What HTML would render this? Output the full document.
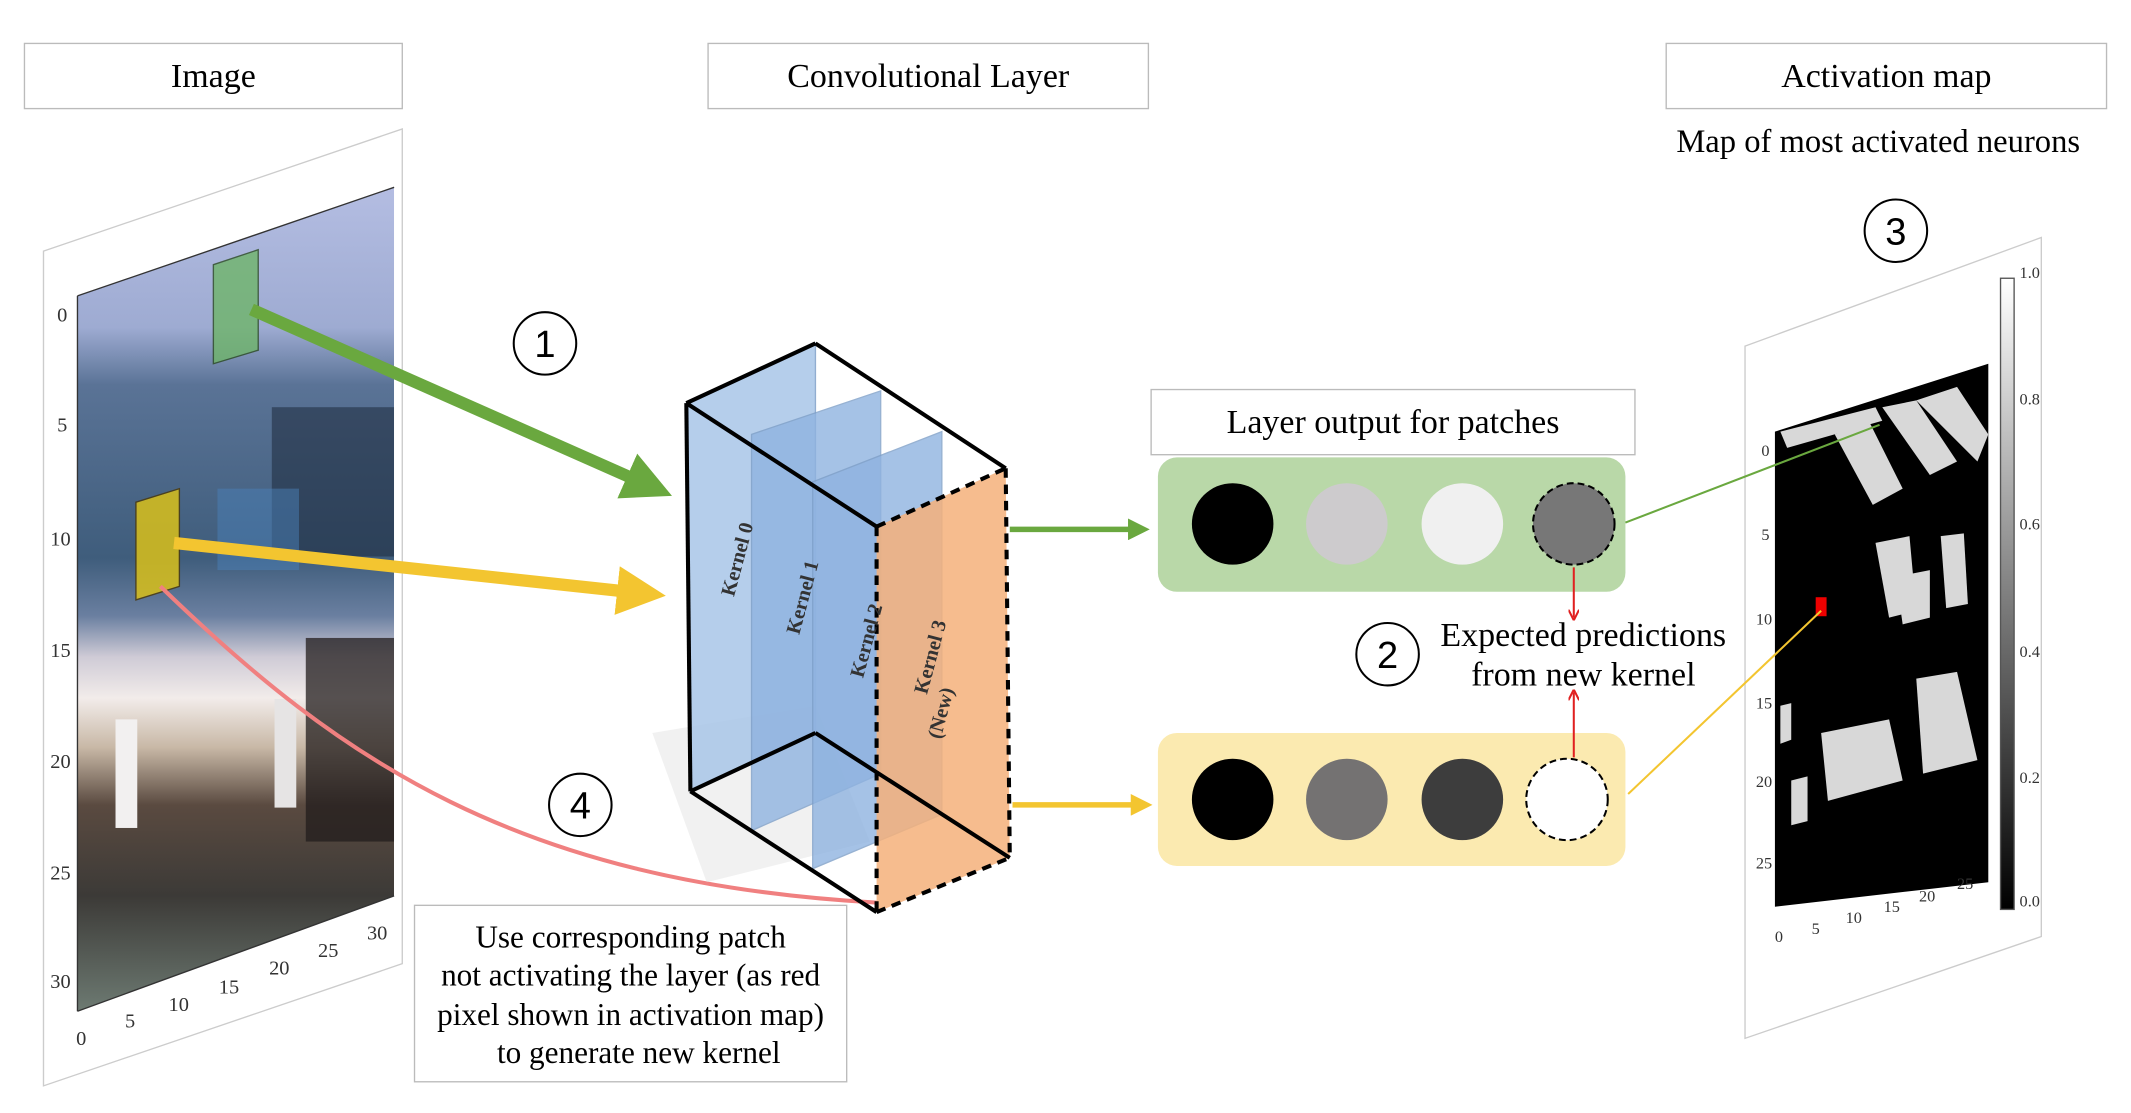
<!DOCTYPE html>
<html><head><meta charset="utf-8"><style>
html,body{margin:0;padding:0;background:#fff;}
svg{display:block;}
text{font-family:"Liberation Serif",serif;}
</style></head><body>
<svg width="2131" height="1113" viewBox="0 0 1568 820" preserveAspectRatio="none" xmlns="http://www.w3.org/2000/svg">
<defs>
<linearGradient id="img" x1="0" y1="0" x2="0" y2="1">
<stop offset="0" stop-color="#b4bde2"/><stop offset="0.17" stop-color="#9eabd2"/>
<stop offset="0.24" stop-color="#5a7396"/><stop offset="0.45" stop-color="#3f5d7c"/>
<stop offset="0.52" stop-color="#6a7fa0"/><stop offset="0.57" stop-color="#cfcbd6"/>
<stop offset="0.62" stop-color="#f2ecea"/><stop offset="0.68" stop-color="#c8b8a6"/>
<stop offset="0.75" stop-color="#5a4a40"/><stop offset="0.86" stop-color="#3c3a37"/>
<stop offset="1" stop-color="#6d7a72"/></linearGradient>
<linearGradient id="cb" x1="0" y1="0" x2="0" y2="1"><stop offset="0" stop-color="#fff"/><stop offset="1" stop-color="#000"/></linearGradient>
<clipPath id="ic"><polygon points="57,218 290,138 290,660 57,745"/></clipPath>
<clipPath id="hc"><polygon points="1306,318 1463,268 1463,650 1306,668"/></clipPath>
<marker id="ag" markerWidth="4" markerHeight="4" refX="2" refY="2" orient="auto" markerUnits="strokeWidth"><path d="M0,0 L4,2 L0,4 z" fill="#6aa83f"/></marker>
<marker id="ay" markerWidth="4" markerHeight="4" refX="2" refY="2" orient="auto" markerUnits="strokeWidth"><path d="M0,0 L4,2 L0,4 z" fill="#f3c530"/></marker>
<marker id="ar" markerWidth="8" markerHeight="8" refX="6" refY="4" orient="auto" markerUnits="userSpaceOnUse"><path d="M0,0 L8,4 L0,8" fill="none" stroke="#e02020" stroke-width="1.5"/></marker>
</defs>
<rect x="18" y="32" width="278" height="48" fill="#fff" stroke="#bbb"/>
<text x="157" y="64" font-size="25" text-anchor="middle">Image</text>
<rect x="521" y="32" width="324" height="48" fill="#fff" stroke="#bbb"/>
<text x="683" y="64" font-size="25" text-anchor="middle">Convolutional Layer</text>
<rect x="1226" y="32" width="324" height="48" fill="#fff" stroke="#bbb"/>
<text x="1388" y="64" font-size="25" text-anchor="middle">Activation map</text>
<text x="1382" y="112" font-size="24" text-anchor="middle">Map of most activated neurons</text>
<polygon points="32,185 296,95 296,710 32,800" fill="#fff" stroke="#ccc"/>
<g clip-path="url(#ic)">
<rect x="57" y="138" width="233" height="607" fill="url(#img)"/>
<rect x="200" y="300" width="90" height="110" fill="#1e2a3c" opacity="0.55"/>
<rect x="160" y="360" width="60" height="60" fill="#4a7fb8" opacity="0.5"/>
<rect x="85" y="530" width="16" height="80" fill="#f2f0f0"/>
<rect x="202" y="515" width="16" height="80" fill="#e6e4e4"/>
<rect x="225" y="470" width="65" height="150" fill="#221c1c" opacity="0.75"/>
</g>
<line x1="57" y1="218" x2="57" y2="745" stroke="#333"/>
<line x1="57" y1="745" x2="290" y2="660" stroke="#333"/>
<line x1="57" y1="218" x2="290" y2="138" stroke="#333"/>
<g font-size="15" fill="#333">
<text x="42" y="237">0</text><text x="42" y="318">5</text><text x="37" y="402">10</text><text x="37" y="484">15</text><text x="37" y="566">20</text><text x="37" y="648">25</text><text x="37" y="728">30</text>
<text x="56" y="770">0</text><text x="92" y="757">5</text><text x="124" y="745">10</text><text x="161" y="732">15</text><text x="198" y="718">20</text><text x="234" y="705">25</text><text x="270" y="692">30</text>
</g>
<polygon points="157,195 190,184 190,258 157,268" fill="#6fb56a" opacity="0.8" stroke="#2a4a20"/>
<polygon points="100,370 132,360 132,432 100,442" fill="#d9c01a" opacity="0.85" stroke="#4a3a10"/>
<line x1="185" y1="228" x2="478" y2="358" stroke="#6aa83f" stroke-width="9" marker-end="url(#ag)"/>
<line x1="128" y1="400" x2="472" y2="437" stroke="#f3c530" stroke-width="9" marker-end="url(#ay)"/>
<path d="M118,432 C250,560 380,650 645,665" fill="none" stroke="#f08080" stroke-width="3"/>
<g fill="#fff" stroke="#000" stroke-width="1.5">
<circle cx="401" cy="253" r="23"/><circle cx="427" cy="593" r="23"/><circle cx="1021" cy="482" r="23"/><circle cx="1395" cy="170" r="23"/></g>
<g font-size="28" text-anchor="middle">
<text x="401" y="263" style="font-family:'Liberation Sans',sans-serif">1</text><text x="427" y="603" style="font-family:'Liberation Sans',sans-serif">4</text><text x="1021" y="492" style="font-family:'Liberation Sans',sans-serif">2</text><text x="1395" y="180" style="font-family:'Liberation Sans',sans-serif">3</text></g>
<polygon points="480,540 600,520 640,620 520,650" fill="#ddd" opacity="0.4"/>
<polygon points="505,297 600,253 600,540 508,583" fill="#a9c6e8" opacity="0.85" stroke="#7e9fc8"/>
<polygon points="553,320 648,288 648,570 553,612" fill="#8fb3e0" opacity="0.8" stroke="#7e9fc8"/>
<polygon points="598,355 693,318 693,600 598,640" fill="#8fb3e0" opacity="0.8" stroke="#7e9fc8"/>
<polygon points="645,388 740,345 743,632 645,672" fill="#f4b07a" opacity="0.85"/>
<g stroke="#000" stroke-width="3" fill="none">
<line x1="505" y1="297" x2="600" y2="253"/><line x1="600" y1="253" x2="740" y2="345"/>
<line x1="505" y1="297" x2="645" y2="388"/><line x1="505" y1="297" x2="508" y2="583"/>
<line x1="508" y1="583" x2="645" y2="672"/><line x1="600" y1="540" x2="743" y2="632"/>
<line x1="508" y1="583" x2="600" y2="540"/>
</g>
<g stroke="#000" stroke-width="3" fill="none" stroke-dasharray="7,5">
<line x1="645" y1="388" x2="740" y2="345"/><line x1="740" y1="345" x2="743" y2="632"/>
<line x1="645" y1="672" x2="743" y2="632"/><line x1="645" y1="388" x2="645" y2="672"/></g>
<g font-size="15" font-weight="bold" fill="#333">
<text transform="translate(540,440) rotate(-75)">Kernel 0</text>
<text transform="translate(588,468) rotate(-75)">Kernel 1</text>
<text transform="translate(635,500) rotate(-75)">Kernel 2</text>
<text transform="translate(682,512) rotate(-75)">Kernel 3</text>
<text transform="translate(692,545) rotate(-75)">(New)</text></g>
<line x1="743" y1="390" x2="838" y2="390" stroke="#6aa83f" stroke-width="4" marker-end="url(#ag)"/>
<line x1="745" y1="593" x2="840" y2="593" stroke="#f3c530" stroke-width="4" marker-end="url(#ay)"/>
<rect x="847" y="287" width="356" height="48" fill="#fff" stroke="#bbb"/>
<text x="1025" y="319" font-size="25" text-anchor="middle">Layer output for patches</text>
<rect x="852" y="337" width="344" height="99" rx="14" fill="#b9d8a8"/>
<circle cx="907" cy="386" r="30" fill="#000"/><circle cx="991" cy="386" r="30" fill="#cdcbcd"/><circle cx="1076" cy="386" r="30" fill="#f0f0f0"/>
<circle cx="1158" cy="386" r="30" fill="#777" stroke="#000" stroke-width="1.5" stroke-dasharray="5,3"/>
<rect x="852" y="540" width="344" height="98" rx="14" fill="#fbeab0"/>
<circle cx="907" cy="589" r="30" fill="#000"/><circle cx="991" cy="589" r="30" fill="#747272"/><circle cx="1076" cy="589" r="30" fill="#3d3d3d"/>
<circle cx="1153" cy="589" r="30" fill="#fff" stroke="#000" stroke-width="1.5" stroke-dasharray="5,3"/>
<line x1="1158" y1="418" x2="1158" y2="455" stroke="#e02020" stroke-width="1.5" marker-end="url(#ar)"/>
<line x1="1158" y1="558" x2="1158" y2="510" stroke="#e02020" stroke-width="1.5" marker-end="url(#ar)"/>
<text x="1165" y="476" font-size="25" text-anchor="middle">Expected predictions</text>
<text x="1165" y="505" font-size="25" text-anchor="middle">from new kernel</text>
<rect x="305" y="667" width="318" height="130" fill="#fff" stroke="#bbb"/>
<g font-size="23" text-anchor="middle">
<text x="464" y="698">Use corresponding patch</text>
<text x="464" y="726">not activating the layer (as red</text>
<text x="464" y="755">pixel shown in activation map)</text>
<text x="470" y="783">to generate new kernel</text></g>
<polygon points="1284,255 1502,175 1502,690 1284,765" fill="#fff" stroke="#ccc"/>
<polygon points="1306,318 1463,268 1463,650 1306,668" fill="#000"/>
<g fill="#d8d8d8" clip-path="url(#hc)">
<polygon points="1310,318 1380,300 1385,310 1315,330"/>
<polygon points="1350,320 1375,310 1400,360 1378,372"/><polygon points="1385,300 1410,295 1440,340 1420,350"/>
<polygon points="1410,295 1440,285 1463,320 1455,340"/>
<polygon points="1380,400 1405,395 1410,450 1390,455"/><polygon points="1428,395 1445,393 1448,445 1432,448"/>
<polygon points="1395,425 1420,420 1420,455 1400,460"/>
<polygon points="1340,540 1390,530 1400,575 1345,590"/><polygon points="1410,500 1440,495 1455,560 1415,570"/>
<polygon points="1310,520 1318,518 1318,545 1310,548"/><polygon points="1318,575 1330,572 1330,605 1318,608"/>
</g>
<rect x="1336" y="440" width="8" height="14" fill="#e00"/>
<rect x="1472" y="205" width="10" height="465" fill="url(#cb)" stroke="#555"/>
<g font-size="12" fill="#333"><text x="1486" y="205">1.0</text><text x="1486" y="298">0.8</text><text x="1486" y="390">0.6</text><text x="1486" y="484">0.4</text><text x="1486" y="577">0.2</text><text x="1486" y="668">0.0</text>
<text x="1296" y="336">0</text><text x="1296" y="398">5</text><text x="1292" y="460">10</text><text x="1292" y="522">15</text><text x="1292" y="580">20</text><text x="1292" y="640">25</text>
<text x="1306" y="694">0</text><text x="1333" y="688">5</text><text x="1358" y="680">10</text><text x="1386" y="672">15</text><text x="1412" y="664">20</text><text x="1440" y="655">25</text></g>
<line x1="1196" y1="385" x2="1383" y2="313" stroke="#6aa83f" stroke-width="1.5"/>
<line x1="1198" y1="585" x2="1340" y2="450" stroke="#f3c530" stroke-width="1.5"/>
</svg>
</body></html>
